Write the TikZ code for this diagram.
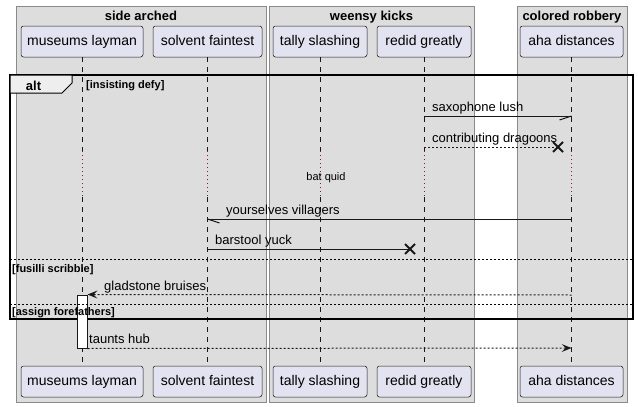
\documentclass[tikz,border=0pt]{standalone}
\usepackage{fontspec}
\setmainfont{Liberation Sans}
\definecolor{grpfill}{HTML}{DDDDDD}
\definecolor{grpedge}{HTML}{8A8A8A}
\definecolor{partfill}{HTML}{E2E2F0}
\definecolor{edge}{HTML}{181818}
\definecolor{tabfill}{HTML}{EEEEEE}
\definecolor{delaycol}{HTML}{8B1A3A}
\begin{document}
\begin{tikzpicture}[x=1pt,y=-1pt]
\tikzset{
 grpbox/.style={draw=grpedge, fill=grpfill, line width=0.8pt},
 partbox/.style={draw=edge, fill=partfill, line width=0.5pt, rounded corners=2.5pt, minimum height=31pt, inner sep=0pt, font=\fontsize{14}{16}\selectfont, text height=10pt, text depth=3pt},
 life/.style={draw=edge, line width=0.5pt, dash pattern=on 5pt off 5pt},
 delayline/.style={draw=delaycol, line width=0.8pt, dash pattern=on 1pt off 3pt},
 msg/.style={draw=edge, line width=1pt},
 dmsg/.style={msg, dash pattern=on 2pt off 2pt},
 lbl/.style={font=\fontsize{13}{15}\selectfont, anchor=base west, inner sep=0pt},
 guard/.style={font=\bfseries\fontsize{11}{13}\selectfont, anchor=base west, inner sep=0pt},
 grptitle/.style={font=\bfseries\fontsize{13}{15}\selectfont, anchor=base, inner sep=0pt},
 xmark/.style={draw=edge, line width=2pt},
 actbox/.style={draw=edge, fill=white, line width=1pt, minimum width=10pt, minimum height=53pt, inner sep=0pt},
}
\useasboundingbox (0,0) rectangle (638,407);
\fill[white] (0,0) rectangle (638,407);
% groups
\draw[grpbox] (16,6) rectangle (266,402);
\draw[grpbox] (269,6) rectangle (474,402);
\draw[grpbox] (517,6) rectangle (627,402);
\node[grptitle] (g1) at (141,20) {side arched};
\node[grptitle] (g2) at (371.5,20) {weensy kicks};
\node[grptitle] (g3) at (572,20) {colored robbery};
% participants
\node[partbox, minimum width=122pt] (ml) at (82,41.5) {museums layman};
\node[partbox, minimum width=109pt] (sf) at (207.5,41.5) {solvent faintest};
\node[partbox, minimum width=94pt] (ts) at (320,41.5) {tally slashing};
\node[partbox, minimum width=94pt] (rg) at (424,41.5) {redid greatly};
\node[partbox, minimum width=103pt] (ad) at (571.5,41.5) {aha distances};
\node[partbox, minimum width=122pt] (mlb) at (82,381.5) {museums layman};
\node[partbox, minimum width=109pt] (sfb) at (207.5,381.5) {solvent faintest};
\node[partbox, minimum width=94pt] (tsb) at (320,381.5) {tally slashing};
\node[partbox, minimum width=94pt] (rgb) at (424,381.5) {redid greatly};
\node[partbox, minimum width=103pt] (adb) at (571.5,381.5) {aha distances};
% lifelines
\foreach \p in {ml,sf,ts,rg,ad}{
  \draw[life] (\p.south) -- (\p.south |- 0,151);
  \draw[delayline] (\p.south |- 0,151) -- (\p.south |- 0,197);
  \draw[life] (\p.south |- 0,197) -- (\p b.north);
}
% alt frame
\draw[line width=1.5pt] (10,75) rectangle (633,319);
\draw[fill=tabfill, line width=1pt] (10,75) -- (72,75) -- (72,83) -- (62,93) -- (10,93) -- cycle;
\node[font=\bfseries\fontsize{13}{15}\selectfont, anchor=base, inner sep=0pt] (altl) at (33.5,90) {alt};
\node[guard] (gd1) at (86,88) {[insisting defy]};
% saxophone lush
\coordinate (m1s) at (rg.south |- 0,116);
\coordinate (m1e) at (ad.south |- 0,116);
\draw[msg] (m1s) -- (m1e);
\draw[msg] (m1e) -- ++(-12,4);
\node[lbl] (t1) at (432,111) {saxophone lush};
% contributing dragoons
\coordinate (m2s) at (rg.south |- 0,147);
\coordinate (x1) at (558,147);
\draw[dmsg] (m2s) -- (x1);
\draw[xmark] ([shift={(-5,-5)}]x1) -- ([shift={(5,5)}]x1);
\draw[xmark] ([shift={(-5,5)}]x1) -- ([shift={(5,-5)}]x1);
\node[lbl] (t2) at (432,142) {contributing dragoons};
% delay
\node[font=\fontsize{11}{13}\selectfont, anchor=base, inner sep=0pt] (dl) at (326,180) {bat quid};
% yourselves villagers
\coordinate (m3s) at (ad.south |- 0,219);
\coordinate (m3e) at (sf.south |- 0,219);
\draw[msg] (m3s) -- (m3e);
\draw[msg] (m3e) -- ++(12,4);
\node[lbl] (t3) at (226,214) {yourselves villagers};
% barstool yuck
\coordinate (m4s) at (sf.south |- 0,249);
\coordinate (x2) at (410,249);
\draw[msg] (m4s) -- (x2);
\draw[xmark] ([shift={(-5,-5)}]x2) -- ([shift={(5,5)}]x2);
\draw[xmark] ([shift={(-5,5)}]x2) -- ([shift={(5,-5)}]x2);
\node[lbl] (t4) at (215,244) {barstool yuck};
% separator 1
\draw[line width=1pt, dash pattern=on 2pt off 2pt] (10,259) -- (633,259);
\node[guard] (gd2) at (12,272) {[fusilli scribble]};
% activation
\node[actbox] (act) at (ml.south |- 0,321.5) {};
% gladstone bruises
\coordinate (m5s) at (ad.south |- 0,295);
\coordinate (m5e) at (act.north east);
\draw[dmsg] (m5s) -- ([xshift=6pt]m5e);
\fill[edge] (m5e) -- ++(10,-4) -- ++(-4,4) -- ++(4,4) -- cycle;
\node[lbl] (t5) at (104,290) {gladstone bruises};
% separator 2
\draw[line width=1pt, dash pattern=on 2pt off 2pt] (10,304) -- (633,304);
\node[guard] (gd3) at (12,315) {[assign forefathers]};
% taunts hub
\coordinate (m6s) at (act.south east);
\coordinate (m6e) at (ad.south |- 0,348);
\draw[dmsg] (m6s) -- ([xshift=-6pt]m6e);
\fill[edge] (m6e) -- ++(-10,-4) -- ++(4,4) -- ++(-4,4) -- cycle;
\node[lbl] (t6) at (89,343) {taunts hub};
\end{tikzpicture}
\end{document}
